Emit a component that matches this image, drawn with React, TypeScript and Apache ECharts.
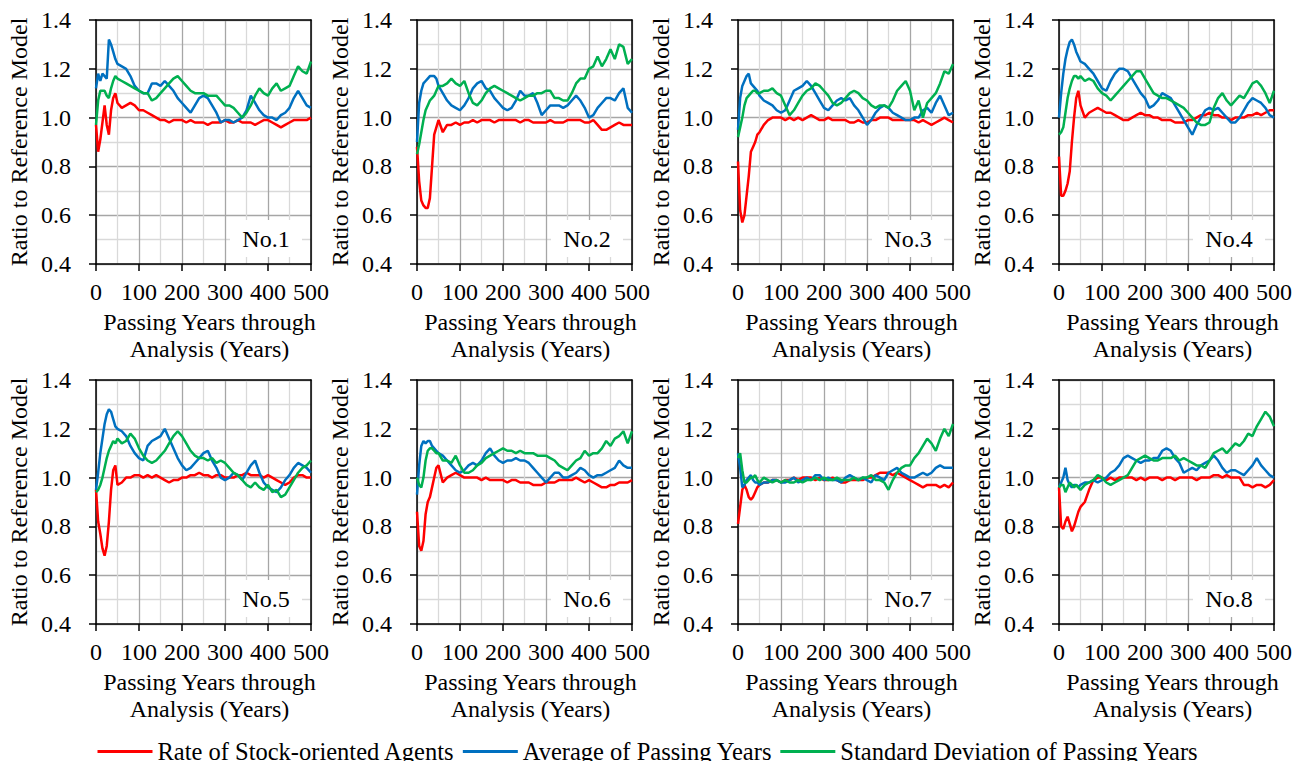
import React, { useEffect, useRef } from "react";
import * as echarts from "echarts";

const YEARS = [0, 5, 10, 15, 20, 25, 30, 35, 40, 45, 50, 60, 70, 80, 90, 100, 110, 120, 130, 140, 150, 160, 170, 180, 190, 200, 210, 220, 230, 240, 250, 260, 270, 280, 290, 300, 310, 320, 330, 340, 350, 360, 370, 380, 390, 400, 410, 420, 430, 440, 450, 460, 470, 480, 490, 500];

const Y_TICKS = [0.4, 0.6, 0.8, 1.0, 1.2, 1.4];
const X_TICKS = [0, 100, 200, 300, 400, 500];

const SERIES_NAMES = ["Rate of Stock-oriented Agents", "Average of Passing Years", "Standard Deviation of Passing Years"];
const PANEL_NAMES = ["No.1", "No.2", "No.3", "No.4", "No.5", "No.6", "No.7", "No.8"];

// Panel 1
const red1 = [0.97, 0.86, 0.91, 0.98, 1.05, 0.97, 0.93, 1.03, 1.08, 1.10, 1.06, 1.04, 1.05, 1.06, 1.05, 1.03, 1.03, 1.02, 1.01, 1.00, 0.99, 0.99, 0.98, 0.99, 0.99, 0.99, 0.98, 0.99, 0.98, 0.98, 0.98, 0.97, 0.98, 0.98, 0.98, 0.99, 0.98, 0.98, 0.99, 0.98, 0.98, 0.98, 0.97, 0.98, 0.99, 0.99, 0.98, 0.97, 0.96, 0.97, 0.98, 0.99, 0.99, 0.99, 0.99, 1.00];
const blue1 = [1.12, 1.18, 1.15, 1.18, 1.17, 1.16, 1.32, 1.30, 1.27, 1.24, 1.22, 1.21, 1.20, 1.17, 1.13, 1.11, 1.10, 1.10, 1.14, 1.14, 1.13, 1.15, 1.13, 1.11, 1.08, 1.06, 1.04, 1.02, 1.05, 1.08, 1.09, 1.08, 1.05, 1.02, 0.98, 0.99, 0.99, 0.98, 0.99, 1.00, 1.03, 1.09, 1.06, 1.03, 1.01, 1.00, 1.00, 0.99, 1.01, 1.02, 1.04, 1.08, 1.11, 1.08, 1.05, 1.04];
const green1 = [0.97, 1.07, 1.11, 1.11, 1.11, 1.09, 1.08, 1.12, 1.15, 1.17, 1.16, 1.15, 1.14, 1.13, 1.12, 1.11, 1.10, 1.10, 1.07, 1.08, 1.10, 1.12, 1.14, 1.16, 1.17, 1.15, 1.13, 1.11, 1.10, 1.10, 1.10, 1.09, 1.09, 1.09, 1.07, 1.05, 1.05, 1.04, 1.02, 1.00, 1.02, 1.05, 1.09, 1.12, 1.10, 1.09, 1.12, 1.14, 1.11, 1.12, 1.13, 1.17, 1.21, 1.19, 1.18, 1.23];

// Panel 2
const red2 = [0.88, 0.74, 0.66, 0.64, 0.63, 0.63, 0.67, 0.80, 0.93, 0.96, 0.99, 0.94, 0.97, 0.97, 0.98, 0.97, 0.98, 0.98, 0.99, 0.98, 0.99, 0.99, 0.99, 0.98, 0.99, 0.99, 0.99, 0.99, 0.99, 0.98, 0.99, 0.99, 0.98, 0.98, 0.98, 0.98, 0.99, 0.98, 0.98, 0.98, 0.99, 0.99, 0.99, 0.99, 0.98, 0.98, 0.99, 0.97, 0.95, 0.95, 0.96, 0.97, 0.98, 0.97, 0.97, 0.97];
const blue2 = [0.90, 1.06, 1.11, 1.14, 1.15, 1.16, 1.17, 1.17, 1.17, 1.16, 1.13, 1.10, 1.07, 1.05, 1.04, 1.03, 1.05, 1.08, 1.12, 1.14, 1.15, 1.12, 1.11, 1.08, 1.06, 1.04, 1.03, 1.04, 1.07, 1.11, 1.09, 1.09, 1.10, 1.06, 1.01, 1.03, 1.05, 1.05, 1.05, 1.04, 1.05, 1.07, 1.09, 1.07, 1.04, 1.00, 1.01, 1.04, 1.06, 1.08, 1.08, 1.07, 1.10, 1.12, 1.04, 1.02];
const green2 = [0.85, 0.89, 0.94, 0.99, 1.03, 1.05, 1.07, 1.08, 1.09, 1.11, 1.13, 1.13, 1.14, 1.16, 1.14, 1.13, 1.15, 1.10, 1.06, 1.05, 1.07, 1.10, 1.12, 1.13, 1.12, 1.11, 1.10, 1.09, 1.08, 1.07, 1.08, 1.09, 1.09, 1.10, 1.10, 1.11, 1.11, 1.08, 1.08, 1.07, 1.07, 1.10, 1.14, 1.16, 1.16, 1.20, 1.21, 1.25, 1.21, 1.24, 1.28, 1.24, 1.30, 1.29, 1.22, 1.24];

// Panel 3
const red3 = [0.82, 0.62, 0.57, 0.60, 0.68, 0.76, 0.86, 0.88, 0.90, 0.93, 0.94, 0.97, 0.99, 1.00, 1.00, 1.00, 0.99, 1.00, 0.99, 1.00, 0.99, 1.00, 1.01, 1.00, 0.99, 0.99, 1.00, 0.99, 0.99, 0.99, 0.99, 0.98, 0.98, 0.99, 0.98, 0.98, 0.99, 0.99, 1.00, 1.00, 1.00, 0.99, 0.99, 0.99, 0.99, 0.99, 0.99, 0.98, 0.99, 0.98, 0.97, 0.98, 0.99, 1.00, 0.99, 0.98];
const blue3 = [0.95, 1.08, 1.13, 1.15, 1.17, 1.18, 1.14, 1.13, 1.12, 1.11, 1.09, 1.07, 1.06, 1.05, 1.03, 1.02, 1.03, 1.07, 1.11, 1.12, 1.13, 1.15, 1.13, 1.10, 1.07, 1.04, 1.03, 1.05, 1.07, 1.08, 1.07, 1.08, 1.05, 1.03, 1.00, 0.97, 0.99, 1.02, 1.04, 1.05, 1.04, 1.02, 1.01, 1.00, 0.99, 0.99, 1.00, 1.00, 1.03, 1.04, 1.02, 1.06, 1.09, 1.05, 1.01, 1.02];
const green3 = [0.92, 0.96, 1.00, 1.05, 1.08, 1.09, 1.10, 1.11, 1.11, 1.10, 1.10, 1.11, 1.11, 1.12, 1.10, 1.09, 1.05, 1.01, 1.03, 1.06, 1.09, 1.11, 1.12, 1.14, 1.13, 1.11, 1.09, 1.06, 1.05, 1.06, 1.08, 1.10, 1.11, 1.10, 1.08, 1.07, 1.05, 1.04, 1.05, 1.05, 1.04, 1.07, 1.11, 1.13, 1.15, 1.11, 1.03, 1.07, 1.00, 1.06, 1.08, 1.10, 1.14, 1.19, 1.18, 1.22];

// Panel 4
const red4 = [0.84, 0.68, 0.68, 0.70, 0.73, 0.78, 0.90, 1.00, 1.08, 1.11, 1.05, 1.00, 1.02, 1.03, 1.04, 1.03, 1.02, 1.02, 1.01, 1.00, 0.99, 0.99, 1.00, 1.01, 1.02, 1.01, 1.01, 1.00, 1.00, 0.99, 0.99, 0.99, 0.98, 0.98, 0.98, 0.99, 0.99, 1.00, 1.01, 1.01, 1.02, 1.01, 1.01, 1.00, 1.00, 0.99, 1.00, 1.00, 1.00, 1.01, 1.01, 1.02, 1.01, 1.02, 1.03, 1.03];
const blue4 = [1.00, 1.10, 1.18, 1.24, 1.28, 1.31, 1.32, 1.30, 1.27, 1.25, 1.23, 1.22, 1.20, 1.18, 1.15, 1.12, 1.11, 1.15, 1.18, 1.20, 1.20, 1.19, 1.16, 1.13, 1.10, 1.08, 1.04, 1.05, 1.07, 1.10, 1.09, 1.08, 1.05, 1.02, 0.99, 0.96, 0.93, 0.97, 1.00, 1.03, 1.04, 1.03, 1.04, 1.02, 1.00, 0.98, 0.98, 1.00, 1.03, 1.06, 1.08, 1.07, 1.06, 1.04, 1.01, 1.00];
const green4 = [0.93, 0.94, 0.96, 1.02, 1.08, 1.12, 1.15, 1.17, 1.17, 1.16, 1.17, 1.15, 1.16, 1.15, 1.12, 1.10, 1.09, 1.07, 1.09, 1.11, 1.13, 1.15, 1.17, 1.19, 1.19, 1.16, 1.13, 1.10, 1.09, 1.08, 1.08, 1.07, 1.06, 1.05, 1.04, 1.02, 1.00, 0.98, 0.97, 0.97, 0.98, 1.04, 1.08, 1.10, 1.07, 1.05, 1.07, 1.09, 1.08, 1.11, 1.14, 1.15, 1.13, 1.10, 1.06, 1.11];

// Panel 5
const red5 = [0.95, 0.82, 0.77, 0.71, 0.68, 0.72, 0.82, 0.95, 1.03, 1.05, 0.97, 0.98, 1.00, 1.00, 1.01, 1.01, 1.00, 1.01, 1.00, 1.01, 1.00, 0.99, 0.98, 0.99, 0.99, 1.00, 1.00, 1.01, 1.01, 1.02, 1.01, 1.01, 1.00, 1.01, 1.01, 1.00, 1.00, 1.00, 1.01, 1.01, 1.02, 1.01, 1.01, 1.01, 1.00, 1.01, 1.00, 0.99, 0.98, 0.97, 0.98, 1.00, 1.01, 1.01, 1.00, 1.00];
const blue5 = [0.95, 1.02, 1.10, 1.16, 1.22, 1.26, 1.28, 1.27, 1.24, 1.21, 1.20, 1.19, 1.17, 1.13, 1.10, 1.08, 1.07, 1.13, 1.15, 1.16, 1.17, 1.20, 1.16, 1.12, 1.08, 1.05, 1.03, 1.04, 1.06, 1.08, 1.10, 1.11, 1.07, 1.04, 1.00, 0.99, 1.00, 1.02, 1.01, 0.99, 1.02, 1.05, 1.07, 1.02, 0.98, 0.96, 0.95, 0.94, 0.96, 0.99, 1.01, 1.04, 1.06, 1.05, 1.04, 1.02];
const green5 = [0.94, 0.95, 0.97, 1.00, 1.04, 1.08, 1.11, 1.13, 1.15, 1.14, 1.16, 1.14, 1.15, 1.18, 1.16, 1.12, 1.09, 1.07, 1.06, 1.07, 1.09, 1.11, 1.14, 1.17, 1.19, 1.17, 1.14, 1.11, 1.09, 1.08, 1.08, 1.07, 1.08, 1.06, 1.07, 1.06, 1.04, 1.02, 1.01, 0.99, 0.97, 0.96, 0.98, 0.96, 0.95, 0.97, 0.94, 0.95, 0.92, 0.93, 0.96, 0.99, 1.02, 1.04, 1.05, 1.07];

// Panel 6
const red6 = [0.86, 0.72, 0.70, 0.74, 0.85, 0.90, 0.92, 0.96, 1.00, 1.04, 1.05, 0.98, 1.00, 1.01, 1.02, 1.01, 1.00, 1.00, 1.00, 1.00, 0.99, 1.00, 0.99, 0.99, 0.99, 0.99, 0.98, 0.99, 0.99, 0.98, 0.98, 0.98, 0.97, 0.97, 0.97, 0.98, 0.98, 0.98, 0.99, 0.99, 0.99, 0.99, 1.00, 0.99, 0.98, 0.99, 0.98, 0.97, 0.96, 0.96, 0.97, 0.97, 0.98, 0.98, 0.98, 0.99];
const blue6 = [0.93, 1.05, 1.13, 1.15, 1.14, 1.15, 1.15, 1.13, 1.12, 1.11, 1.10, 1.09, 1.07, 1.05, 1.03, 1.02, 1.03, 1.05, 1.06, 1.05, 1.07, 1.10, 1.12, 1.09, 1.07, 1.06, 1.07, 1.07, 1.08, 1.07, 1.07, 1.06, 1.04, 1.02, 1.00, 0.98, 1.00, 1.02, 1.02, 1.00, 1.00, 1.01, 1.02, 1.04, 1.03, 1.01, 1.00, 1.01, 1.01, 1.02, 1.03, 1.04, 1.07, 1.05, 1.04, 1.04];
const green6 = [1.00, 0.97, 0.96, 1.00, 1.07, 1.11, 1.12, 1.12, 1.11, 1.10, 1.10, 1.07, 1.07, 1.06, 1.09, 1.05, 1.02, 1.02, 1.03, 1.05, 1.06, 1.08, 1.09, 1.10, 1.11, 1.12, 1.11, 1.11, 1.10, 1.11, 1.10, 1.10, 1.10, 1.09, 1.09, 1.09, 1.08, 1.07, 1.05, 1.04, 1.03, 1.05, 1.07, 1.08, 1.11, 1.09, 1.10, 1.10, 1.12, 1.15, 1.13, 1.16, 1.17, 1.19, 1.14, 1.19];

// Panel 7
const red7 = [0.81, 0.88, 0.95, 0.97, 0.95, 0.92, 0.91, 0.92, 0.94, 0.96, 0.97, 0.98, 0.98, 0.99, 0.99, 0.98, 0.99, 0.99, 1.00, 0.99, 1.00, 1.00, 1.00, 0.99, 1.00, 0.99, 0.99, 1.00, 0.99, 0.98, 0.98, 0.99, 0.99, 0.99, 0.99, 1.00, 1.00, 1.01, 1.02, 1.02, 1.02, 1.01, 1.02, 1.01, 1.00, 0.99, 0.98, 0.97, 0.96, 0.97, 0.97, 0.97, 0.96, 0.97, 0.96, 0.98];
const blue7 = [1.10, 1.04, 0.96, 0.97, 0.99, 1.00, 1.01, 0.99, 0.98, 0.98, 0.97, 0.98, 0.98, 0.99, 0.99, 0.98, 0.98, 0.99, 1.00, 0.98, 0.99, 1.00, 0.99, 1.01, 1.01, 0.99, 1.00, 0.99, 0.99, 0.98, 1.00, 1.01, 1.00, 0.99, 1.00, 0.99, 0.98, 1.01, 1.00, 0.99, 1.02, 1.03, 1.04, 1.02, 1.01, 1.00, 1.00, 1.01, 1.02, 1.01, 1.02, 1.04, 1.05, 1.04, 1.04, 1.04];
const green7 = [1.08, 1.10, 1.03, 0.98, 0.98, 0.99, 1.00, 1.00, 1.01, 0.99, 0.98, 1.00, 0.99, 0.98, 0.99, 0.98, 0.99, 0.98, 0.98, 0.99, 0.98, 0.99, 0.99, 1.00, 0.99, 1.00, 0.99, 0.99, 1.00, 0.99, 0.99, 0.99, 1.00, 0.99, 1.00, 1.00, 1.01, 0.99, 0.99, 0.98, 0.95, 0.99, 1.02, 1.04, 1.05, 1.05, 1.08, 1.10, 1.13, 1.16, 1.14, 1.11, 1.16, 1.20, 1.17, 1.22];

// Panel 8
const red8 = [0.96, 0.80, 0.79, 0.82, 0.84, 0.81, 0.78, 0.80, 0.83, 0.86, 0.88, 0.90, 0.95, 0.99, 1.00, 1.00, 0.99, 1.00, 0.99, 1.00, 1.00, 1.00, 1.00, 0.99, 1.00, 0.99, 1.00, 1.00, 1.00, 0.99, 1.00, 1.00, 0.99, 1.00, 1.00, 1.00, 1.00, 0.99, 1.00, 1.00, 1.00, 1.01, 1.01, 1.00, 1.01, 1.00, 1.00, 1.00, 0.97, 0.97, 0.96, 0.97, 0.97, 0.96, 0.97, 0.99];
const blue8 = [0.96, 0.98, 1.00, 1.04, 0.99, 0.97, 0.96, 0.97, 0.97, 0.96, 0.97, 0.98, 0.98, 0.99, 0.98, 0.99, 1.00, 1.02, 1.03, 1.05, 1.08, 1.09, 1.08, 1.07, 1.06, 1.07, 1.07, 1.08, 1.08, 1.11, 1.12, 1.11, 1.08, 1.06, 1.02, 1.03, 1.04, 1.03, 1.05, 1.06, 1.07, 1.09, 1.07, 1.04, 1.02, 1.03, 1.03, 1.02, 1.01, 1.03, 1.05, 1.08, 1.05, 1.03, 1.01, 1.00];
const green8 = [0.96, 0.97, 0.97, 0.94, 0.96, 0.98, 0.97, 0.96, 0.97, 0.96, 0.95, 0.97, 0.98, 0.99, 1.01, 1.00, 0.98, 0.97, 0.98, 0.99, 1.00, 1.01, 1.04, 1.07, 1.08, 1.09, 1.08, 1.07, 1.07, 1.08, 1.08, 1.08, 1.09, 1.07, 1.08, 1.07, 1.06, 1.05, 1.05, 1.04, 1.07, 1.10, 1.11, 1.12, 1.10, 1.12, 1.14, 1.13, 1.15, 1.18, 1.17, 1.21, 1.24, 1.27, 1.25, 1.21];

const PANEL_DATA = [
  [red1, blue1, green1],
  [red2, blue2, green2],
  [red3, blue3, green3],
  [red4, blue4, green4],
  [red5, blue5, green5],
  [red6, blue6, green6],
  [red7, blue7, green7],
  [red8, blue8, green8],
];

const COLORS = ["#ff0000", "#0070c0", "#00b050"];
const FONT = "Liberation Serif";
const FS = 24;

export default function App() {
  const ref = useRef<HTMLDivElement | null>(null);

  useEffect(() => {
    if (!ref.current) return;
    const chart = echarts.init(ref.current, null, { renderer: "svg" });

    const grids: any[] = [];
    const xAxes: any[] = [];
    const yAxes: any[] = [];
    const series: any[] = [];
    const graphics: any[] = [];

    const GW = 215;
    const GH = 244;

    PANEL_DATA.forEach((sets, i) => {
      const col = i % 4;
      const row = Math.floor(i / 4);
      const left = 96 + 321 * col;
      const top = 20 + 360 * row;
      grids.push({ left, top, width: GW, height: GH, containLabel: false });

      xAxes.push({
        type: "value",
        gridIndex: i,
        min: X_TICKS[0],
        max: X_TICKS[X_TICKS.length - 1],
        interval: 100,
        position: "bottom",
        axisLine: { show: true, onZero: false, lineStyle: { color: "#000", width: 1.5 } },
        axisTick: { show: true, inside: false, length: 7, lineStyle: { color: "#000", width: 1.5 } },
        axisLabel: { show: true, color: "#000", fontFamily: FONT, fontSize: FS, margin: 16, showMaxLabel: true, showMinLabel: true, hideOverlap: false },
        splitLine: { show: true, lineStyle: { color: "#a6a6a6", width: 1.3 } },
        minorTick: { show: false, splitNumber: 2 },
        minorSplitLine: { show: true, lineStyle: { color: "#d9d9d9", width: 1.3 } },
        name: "Passing Years through\nAnalysis (Years)",
        nameLocation: "middle",
        nameGap: 44,
        nameTextStyle: { color: "#000", fontFamily: FONT, fontSize: FS, lineHeight: 27, padding: [0, 0, 0, 12] },
      });
      xAxes.push({
        type: "value",
        gridIndex: i,
        min: 0,
        max: 500,
        position: "top",
        axisLine: { show: true, onZero: false, lineStyle: { color: "#000", width: 1.5 } },
        axisTick: { show: false },
        axisLabel: { show: false },
        splitLine: { show: false },
      });
      yAxes.push({
        type: "value",
        gridIndex: i,
        min: Y_TICKS[0],
        max: Y_TICKS[Y_TICKS.length - 1],
        interval: 0.2,
        position: "left",
        axisLine: { show: true, onZero: false, lineStyle: { color: "#000", width: 1.5 } },
        axisTick: { show: true, inside: false, length: 7, lineStyle: { color: "#000", width: 1.5 } },
        axisLabel: { show: true, color: "#000", fontFamily: FONT, fontSize: FS, margin: 25, formatter: (v: number) => v.toFixed(1) },
        splitLine: { show: true, lineStyle: { color: "#a6a6a6", width: 1.3 } },
        minorTick: { show: false, splitNumber: 2 },
        minorSplitLine: { show: true, lineStyle: { color: "#d9d9d9", width: 1.3 } },
        name: "Ratio to Reference Model",
        nameLocation: "middle",
        nameRotate: 90,
        nameGap: 65,
        nameTextStyle: { color: "#000", fontFamily: FONT, fontSize: FS },
      });
      yAxes.push({
        type: "value",
        gridIndex: i,
        min: 0.4,
        max: 1.4,
        position: "right",
        axisLine: { show: true, onZero: false, lineStyle: { color: "#000", width: 1.5 } },
        axisTick: { show: false },
        axisLabel: { show: false },
        splitLine: { show: false },
      });

      sets.forEach((vals, s) => {
        series.push({
          name: SERIES_NAMES[s],
          type: "line",
          xAxisIndex: i * 2,
          yAxisIndex: i * 2,
          data: YEARS.map((x, k) => [x, vals[k]]),
          showSymbol: false,
          symbol: "none",
          clip: true,
          lineStyle: { color: COLORS[s], width: 2.5 },
          itemStyle: { color: COLORS[s] },
          z: 3 + s,
        });
      });

      graphics.push({
        type: "rect",
        left: left + 134,
        top: top + 200,
        shape: { width: 72, height: 37 },
        style: { fill: "#ffffff" },
        z: 10,
      });
      graphics.push({
        type: "text",
        x: left + 170,
        y: top + 219,
        style: {
          text: PANEL_NAMES[i],
          fill: "#000",
          fontFamily: FONT,
          fontSize: FS,
          textAlign: "center",
          textVerticalAlign: "middle",
        },
        z: 11,
      });
    });

    chart.setOption({
      animation: false,
      backgroundColor: "#ffffff",
      grid: grids,
      xAxis: xAxes,
      yAxis: yAxes,
      series,
      graphic: graphics,
      legend: {
        data: SERIES_NAMES,
        top: 734,
        left: "center",
        icon: "rect",
        itemWidth: 55,
        itemHeight: 3,
        itemGap: 8,
        textStyle: { color: "#000", fontFamily: FONT, fontSize: 24.5 },
      },
    });

    return () => {
      chart.dispose();
    };
  }, []);

  return (
    <div
      ref={ref}
      style={{ position: "absolute", left: 0, top: 0, width: 1296, height: 761, background: "#fff" }}
    />
  );
}
